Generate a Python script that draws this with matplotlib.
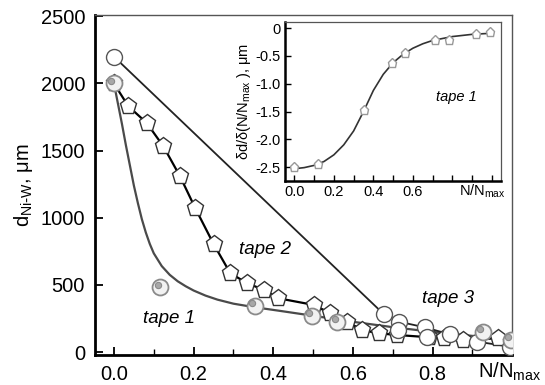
import matplotlib.pyplot as plt
from matplotlib.transforms import offset_copy, ScaledTranslation
import numpy as np

plt.rcParams['font.family'] = ['Liberation Sans', 'DejaVu Sans']
plt.rcParams['mathtext.default'] = 'regular'

# tape 1: measured points and fitted decay curve
t1_x = [0.0, 0.116, 0.353, 0.497, 0.56, 0.926, 0.996]
t1_y = [2000, 483, 346, 269, 226, 152, 90]
t1_fit_x = [0.0, 0.01, 0.02, 0.03, 0.04, 0.05, 0.06, 0.07, 0.08, 0.09, 0.10,
            0.12, 0.14, 0.16, 0.18, 0.20, 0.23, 0.26, 0.30, 0.35, 0.42,
            0.5, 0.6, 0.7, 0.8, 0.9, 1.0]
t1_fit_y = [2000, 1850, 1700, 1540, 1390, 1240, 1110, 990, 890, 805, 735,
            640, 575, 527, 490, 458, 420, 390, 360, 335, 305,
            270, 225, 185, 150, 120, 90]

# tape 2
t2_x = [0.0, 0.036, 0.082, 0.124, 0.166, 0.204, 0.25, 0.292, 0.334, 0.376,
        0.413, 0.501, 0.543, 0.585, 0.623, 0.665, 0.711, 0.79, 0.828, 0.875,
        0.963, 0.996]
t2_y = [2000, 1831, 1707, 1532, 1308, 1072, 805, 587, 513, 463,
        400, 351, 289, 226, 164, 139, 127, 110, 102, 90,
        102, 77]

# tape 3
t3_x = [0.0, 0.677, 0.715, 0.78, 0.843, 0.912, 0.994]
t3_y = [2200, 283, 226, 184, 132, 77, 40]
t3_extra_x = [0.712, 0.786]
t3_extra_y = [164, 114]

# inset: derivative for tape 1
ins_x = [0.0, 0.118, 0.353, 0.496, 0.559, 0.711, 0.785, 0.92, 0.991]
ins_y = [-2.49, -2.45, -1.47, -0.63, -0.45, -0.21, -0.21, -0.11, -0.06]
ins_fit_x = [0.0, 0.05, 0.1, 0.15, 0.2, 0.25, 0.3, 0.35, 0.4, 0.45, 0.5,
             0.55, 0.6, 0.65, 0.7, 0.8, 0.9, 1.0]
ins_fit_y = [-2.53, -2.51, -2.47, -2.40, -2.28, -2.10, -1.85, -1.50, -1.12,
             -0.83, -0.62, -0.47, -0.36, -0.28, -0.22, -0.15, -0.11, -0.09]

xticks = [0.0, 0.2, 0.4, 0.6, 0.8, 1.0]
xticklabels = ['0.0', '0.2', '0.4', '0.6', '0.8', 'N/N$_{max}$']
yticks = [0, 500, 1000, 1500, 2000, 2500]

fig = plt.figure(figsize=(5.45, 3.85), dpi=100)
ax = fig.add_axes([0.174, 0.078, 0.766, 0.883])

ax.plot(t1_fit_x, t1_fit_y, color='#4a4a4a', lw=1.6, zorder=2)
ax.plot(t3_x, t3_y, color='#222222', lw=1.3, zorder=2)
ax.plot(t2_x, t2_y, color='black', lw=1.6, marker='p', ms=12.5,
        mfc='white', mec='#333333', mew=1.0, zorder=3)
ax.plot(t3_x, t3_y, ls='none', marker='o', ms=11.5, mfc='white',
        mec='#555555', mew=1.0, zorder=4)
ax.plot(t3_extra_x, t3_extra_y, ls='none', marker='o', ms=11.5, mfc='white',
        mec='#555555', mew=1.0, zorder=4)
ax.plot(t1_x, t1_y, ls='none', marker='o', ms=11.5, mfc='#f2f2f2',
        mec='#8a8a8a', mew=1.3, zorder=5)
dot_tr = offset_copy(ax.transData, fig=fig, x=-2.5, y=2.5, units='dots')
ax.plot(t1_x, t1_y, ls='none', marker='o', ms=4.5, mfc='#a8a8a8',
        mec='#8a8a8a', mew=0.8, transform=dot_tr, zorder=6)

ax.set_xlim(-0.048, 1.0)
ax.set_ylim(-22, 2510)
ax.set_xticks(xticks)
ax.set_xticklabels(xticklabels)
ax.set_xticks(np.arange(0.1, 1.0, 0.2), minor=True)
ax.set_yticks(yticks)
ax.tick_params(direction='in', labelsize=14.5, length=6, width=1.3, pad=7)
ax.tick_params(which='minor', direction='in', length=4, width=1.0)
# nudge the axis-name label at x=1 so its subscript stays inside the canvas
last = ax.get_xticklabels()[-1]
last.set_transform(last.get_transform() + ScaledTranslation(-0.03, 0.04, fig.dpi_scale_trans))
ax.set_ylabel(r'd$_{Ni\text{-}W}$, μm', fontsize=14.5, labelpad=4)
for side in ['left', 'bottom']:
    ax.spines[side].set_linewidth(2.0)
for side in ['top', 'right']:
    ax.spines[side].set_linewidth(1.0)
    ax.spines[side].set_color('#555555')

ax.text(0.137, 246, 'tape 1', style='italic', fontsize=13.5, ha='center', va='center')
ax.text(0.38, 760, 'tape 2', style='italic', fontsize=13.5, ha='center', va='center')
ax.text(0.838, 396, 'tape 3', style='italic', fontsize=13.5, ha='center', va='center')

# inset
ins = fig.add_axes([0.523, 0.530, 0.396, 0.414])
ins.plot(ins_fit_x, ins_fit_y, color='#333333', lw=1.2, zorder=2)
ins.plot(ins_x, ins_y, ls='none', marker='p', ms=6.5, mfc='white',
         mec='#999999', mew=1.0, zorder=3)
ins.set_xlim(-0.047, 1.045)
ins.set_ylim(-2.75, 0.12)
ins.set_xticks([0.0, 0.2, 0.4, 0.6, 0.8, 1.0])
ins.set_xticklabels(['0.0', '0.2', '0.4', '0.6', '', ''])
ins.set_xticks(np.arange(0.1, 1.0, 0.2), minor=True)
ins.set_yticks([0, -0.5, -1.0, -1.5, -2.0, -2.5])
ins.set_yticklabels(['0', '-0.5', '-1.0', '-1.5', '-2.0', '-2.5'])
ins.tick_params(direction='in', labelsize=10.5, length=4, width=1.0, pad=3)
ins.tick_params(which='minor', direction='in', length=4, width=1.0)
ins.set_ylabel('δd/δ(N/N$_{max}$ ), μm', fontsize=10.5, labelpad=2)
ins.text(0.95, -2.93, 'N/N$_{max}$', fontsize=10.5, ha='center', va='center',
         clip_on=False)
ins.text(0.82, -1.23, 'tape 1', style='italic', fontsize=10.5, ha='center', va='center')
for side in ['left', 'bottom']:
    ins.spines[side].set_linewidth(1.8)
for side in ['top', 'right']:
    ins.spines[side].set_linewidth(0.9)
    ins.spines[side].set_color('#555555')

fig.savefig('out.png', dpi=100)
